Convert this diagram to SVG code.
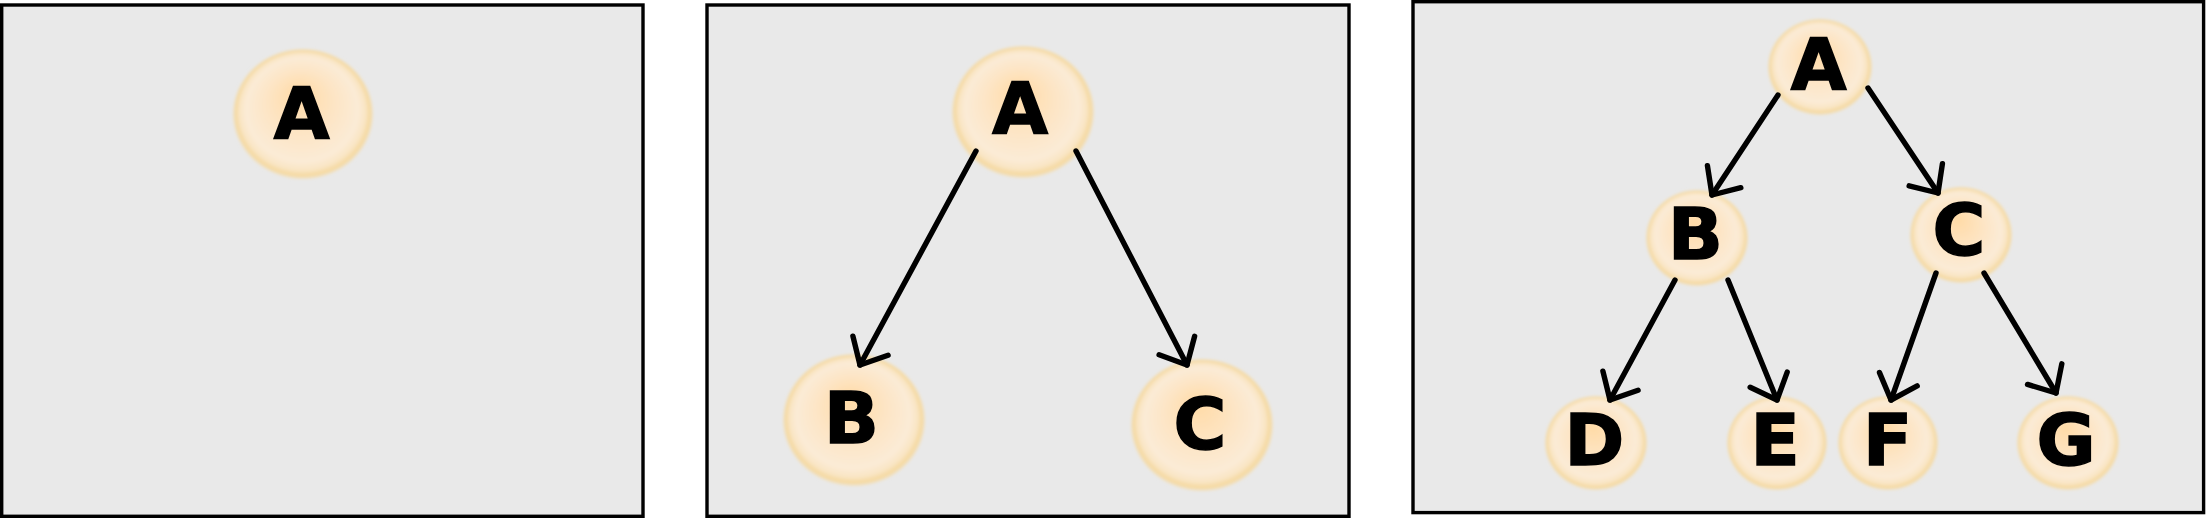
<svg xmlns="http://www.w3.org/2000/svg" width="2206" height="518" viewBox="0 0 2206 518">
<style>
.panel{fill:#e9e9e9;stroke:#000;stroke-width:3.4}
.node{fill:url(#ng);filter:url(#soft)}
.lbl{font-family:"DejaVu Sans","Liberation Sans",sans-serif;font-weight:bold;font-size:72px;fill:#000;stroke:#000;stroke-width:1.6;stroke-linejoin:miter;text-anchor:middle}
.edge{fill:none;stroke:#000;stroke-width:5.4;stroke-linecap:round;marker-end:url(#arr)}
</style>
<defs>
<radialGradient id="ng" cx="0.5" cy="0.5" r="0.5" fx="0.47" fy="0.33">
<stop offset="0" stop-color="#ffdba6"/>
<stop offset="0.5" stop-color="#fde5c6"/>
<stop offset="0.8" stop-color="#fbebd6"/>
<stop offset="0.9" stop-color="#f9e5c4"/>
<stop offset="0.96" stop-color="#f5d9a0"/>
<stop offset="1" stop-color="#efe3cc"/>
</radialGradient>
<filter id="soft" x="-10%" y="-10%" width="120%" height="120%">
<feGaussianBlur stdDeviation="1.6"/>
</filter>
<marker id="arr" markerUnits="userSpaceOnUse" viewBox="-28 -26 32 52" refX="0" refY="0" markerWidth="32" markerHeight="52" orient="auto" overflow="visible">
<path d="M-22,-20 L0,0 L-22,20" fill="none" stroke="#000" stroke-width="5.4" stroke-linecap="round" stroke-linejoin="round"/>
</marker>
</defs>
<rect width="2206" height="518" fill="#fff"/>
<g id="panels">
<rect class="panel" x="1.7" y="5" width="641.3" height="511.3"/>
<rect class="panel" x="707" y="5" width="642" height="511.3"/>
<rect class="panel" x="1413" y="1.7" width="790.6" height="510.9"/>
</g>
<g id="p1-A"><ellipse class="node" cx="303" cy="114" rx="70" ry="65"/><text class="lbl" x="301.5" y="137.5">A</text></g>
<g id="p2-A"><ellipse class="node" cx="1023" cy="112" rx="71" ry="66"/><text class="lbl" x="1020" y="132.5">A</text></g>
<g id="p2-B"><ellipse class="node" cx="854" cy="420" rx="71" ry="66"/><text class="lbl" x="851.5" y="442.5">B</text></g>
<g id="p2-C"><ellipse class="node" cx="1202" cy="425" rx="71" ry="66"/><text class="lbl" x="1200" y="448.5">C</text></g>
<g id="p3-A"><ellipse class="node" cx="1820" cy="67" rx="52" ry="48"/><text class="lbl" x="1818.5" y="88.5">A</text></g>
<g id="p3-B"><ellipse class="node" cx="1697" cy="238" rx="51" ry="48"/><text class="lbl" x="1695.5" y="258.5">B</text></g>
<g id="p3-C"><ellipse class="node" cx="1961" cy="235" rx="51" ry="48"/><text class="lbl" x="1959" y="254.5">C</text></g>
<g id="p3-D"><ellipse class="node" cx="1596" cy="443" rx="51" ry="47"/><text class="lbl" x="1594.5" y="464.5">D</text></g>
<g id="p3-E"><ellipse class="node" cx="1777" cy="443" rx="50" ry="47"/><text class="lbl" x="1775" y="464.5">E</text></g>
<g id="p3-F"><ellipse class="node" cx="1888" cy="443" rx="50" ry="47"/><text class="lbl" x="1887.5" y="464.5">F</text></g>
<g id="p3-G"><ellipse class="node" cx="2068" cy="443" rx="51" ry="47"/><text class="lbl" x="2066" y="464.5">G</text></g>
<g id="connectors">
<path class="edge" d="M976,151 L860,365"/>
<path class="edge" d="M1076,151 L1187,365"/>
<path class="edge" d="M1778,95 L1712,195"/>
<path class="edge" d="M1868,88 L1938,193"/>
<path class="edge" d="M1675,280 L1610,400"/>
<path class="edge" d="M1728,280 L1777,400"/>
<path class="edge" d="M1936,273 L1891,400"/>
<path class="edge" d="M1984,273 L2056,393"/>
</g>
</svg>
